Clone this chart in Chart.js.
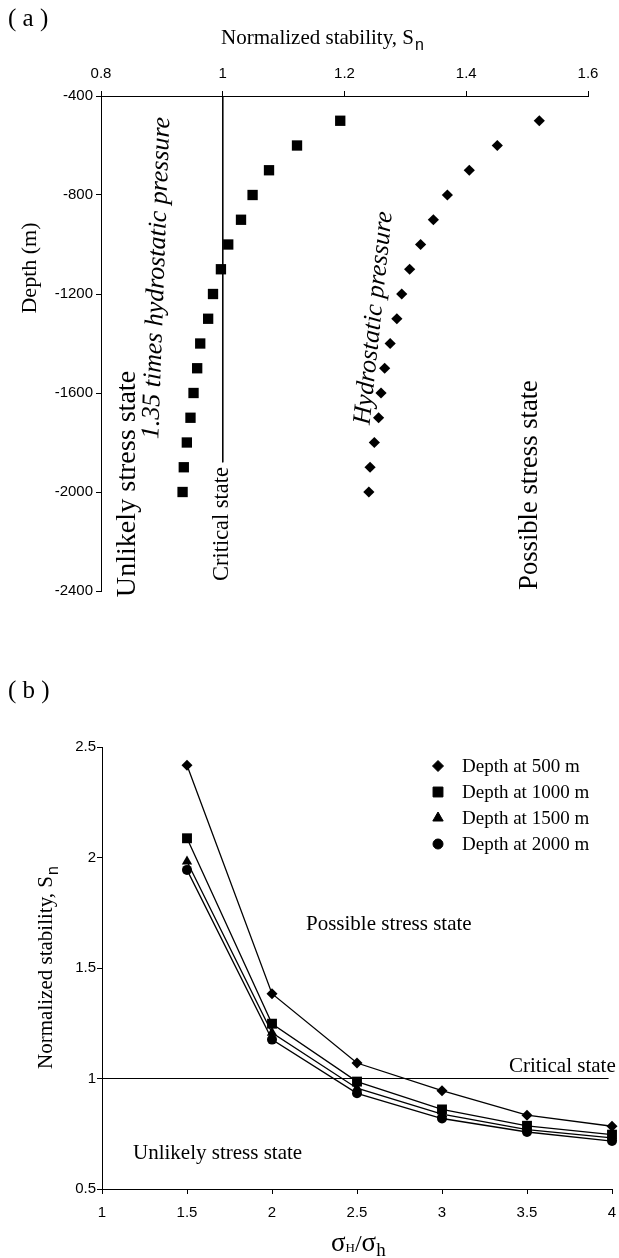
<!DOCTYPE html>
<html>
<head>
<meta charset="utf-8">
<script src="https://cdn.jsdelivr.net/npm/chart.js@4.4.1/dist/chart.umd.min.js"></script>
<style>
  html, body { margin: 0; padding: 0; background: #fff; }
  #panelA { position: absolute; left: 0; top: 0; }
  #panelB { position: absolute; left: 0; top: 650px; }
</style>
</head>
<body>
<canvas id="panelA" width="619" height="650"></canvas>
<canvas id="panelB" width="619" height="608"></canvas>
<script>
// panel (a): normalized stability against depth
const depthsA = [-500, -600, -700, -800, -900, -1000, -1100, -1200, -1300, -1400, -1500, -1600, -1700, -1800, -1900, -2000];
const snTimes135 = [1.193, 1.122, 1.076, 1.049, 1.030, 1.009, 0.997, 0.984, 0.976, 0.963, 0.958, 0.952, 0.947, 0.941, 0.936, 0.934];
const snHydrostatic = [1.520, 1.451, 1.405, 1.369, 1.346, 1.325, 1.307, 1.294, 1.286, 1.275, 1.266, 1.260, 1.256, 1.249, 1.242, 1.240];
const criticalSnA = 1;
const criticalDepthsA = [-400, -1880];
const xTicksA = [0.8, 1, 1.2, 1.4, 1.6];
const yTicksA = [-400, -800, -1200, -1600, -2000, -2400];

// panel (b): normalized stability against stress ratio
const stressRatios = [1.5, 2, 2.5, 3, 3.5, 4];
const sn500 = [2.417, 1.384, 1.070, 0.945, 0.834, 0.784];
const sn1000 = [2.087, 1.248, 0.986, 0.860, 0.786, 0.746];
const sn1500 = [1.982, 1.207, 0.956, 0.839, 0.769, 0.731];
const sn2000 = [1.944, 1.176, 0.933, 0.819, 0.758, 0.717];
const seriesLabels = ['Depth at 500 m', 'Depth at 1000 m', 'Depth at 1500 m', 'Depth at 2000 m'];
const seriesStyles = ['rectRot', 'rect', 'triangle', 'circle'];
const seriesRadius = [5.5, 7, 6, 5];
const criticalRatiosB = [1, 3.98];
const criticalSnB = 1;
const xTicksB = [1, 1.5, 2, 2.5, 3, 3.5, 4];
const yTicksB = [0.5, 1, 1.5, 2, 2.5];

const SERIF = '"Liberation Serif", "DejaVu Serif", serif';
const SANS = '"Liberation Sans", Arial, sans-serif';
const fmt = (v) => String(Math.round(v * 10) / 10);

const text = (ctx, str, x, y, font, opts = {}) => {
  ctx.save();
  ctx.translate(x, y);
  if (opts.angle) ctx.rotate(opts.angle * Math.PI / 180);
  ctx.font = font;
  ctx.fillStyle = '#000';
  ctx.textAlign = opts.align || 'left';
  ctx.textBaseline = opts.baseline || 'middle';
  ctx.fillText(str, 0, 0);
  ctx.restore();
};

// font size that makes str about `len` pixels long
const fitFont = (ctx, str, style, len) => {
  ctx.font = style + ' 100px ' + SERIF;
  const size = 100 * len / ctx.measureText(str).width;
  return style + ' ' + size.toFixed(1) + 'px ' + SERIF;
};

// "Normalized stability, Sn" centred on (0,0) of the current transform
const drawSnTitle = (ctx, size) => {
  const main = 'Normalized stability, S';
  ctx.font = size + 'px ' + SERIF;
  const w1 = ctx.measureText(main).width;
  ctx.font = Math.round(size * 0.75) + 'px ' + SANS;
  const w2 = ctx.measureText('n').width;
  const x0 = -(w1 + w2) / 2;
  ctx.fillStyle = '#000';
  ctx.textBaseline = 'alphabetic';
  ctx.textAlign = 'left';
  ctx.font = size + 'px ' + SERIF;
  ctx.fillText(main, x0, 7);
  ctx.font = Math.round(size * 0.75) + 'px ' + SANS;
  ctx.fillText('n', x0 + w1 + 1, 13);
};

const axisCommon = (ticks) => ({
  type: 'linear',
  min: ticks[0],
  max: ticks[ticks.length - 1],
  afterBuildTicks: (scale) => { scale.ticks = ticks.map((v) => ({ value: v })); },
  ticks: { color: '#000', font: { family: SANS, size: 15 }, callback: (v) => fmt(v) },
  grid: { drawOnChartArea: false, drawTicks: true, tickLength: 5, color: '#000', lineWidth: 1 },
  border: { display: true, color: '#000', width: 1 }
});

const textsA = {
  id: 'textsA',
  afterDraw(chart) {
    const ctx = chart.ctx;
    text(ctx, '( a )', 8, 19, '25px ' + SERIF);
    ctx.save();
    ctx.translate(322, 37);
    drawSnTitle(ctx, 21);
    ctx.restore();
    text(ctx, 'Depth (m)', 30, 268, '22px ' + SERIF, { angle: -90, align: 'center' });
    const notes = [
      ['Unlikely stress state', 128, 484, '', 226, -90],
      ['1.35 times hydrostatic pressure', 157, 278, 'italic', 322, -88],
      ['Critical state', 222, 524, '', 114, -90],
      ['Hydrostatic pressure', 374, 318, 'italic', 214, -84],
      ['Possible stress state', 530, 485, '', 210, -90]
    ];
    notes.forEach(([str, x, y, style, len, angle]) => {
      text(ctx, str, x, y, fitFont(ctx, str, style, len), { angle, align: 'center' });
    });
  }
};

const textsB = {
  id: 'textsB',
  afterDraw(chart) {
    const ctx = chart.ctx;
    text(ctx, '( b )', 8, 41, '25px ' + SERIF);
    // legend
    const rows = [116, 142, 168, 194];
    chart.data.datasets.slice(0, 4).forEach((ds, i) => {
      ctx.save();
      ctx.fillStyle = '#000';
      ctx.strokeStyle = '#000';
      Chart.helpers.drawPoint(ctx, { pointStyle: ds.pointStyle, radius: ds.pointRadius, rotation: 0, borderWidth: 1 }, 438, rows[i]);
      ctx.restore();
      text(ctx, seriesLabels[i], 462, rows[i] + 1, '19px ' + SERIF);
    });
    text(ctx, 'Possible stress state', 306, 274, '21px ' + SERIF);
    text(ctx, 'Unlikely stress state', 133, 503, '21px ' + SERIF);
    text(ctx, 'Critical state', 509, 416, '21px ' + SERIF);
    ctx.save();
    ctx.translate(45, 318);
    ctx.rotate(-Math.PI / 2);
    drawSnTitle(ctx, 21);
    ctx.restore();
    // sigma_H / sigma_h
    ctx.save();
    ctx.fillStyle = '#000';
    ctx.textBaseline = 'alphabetic';
    let x = 331;
    const y = 601;
    const put = (s, font, dy) => {
      ctx.font = font;
      ctx.fillText(s, x, y + dy);
      x += ctx.measureText(s).width;
    };
    put('σ', '27px ' + SERIF, 0);
    put('H', '13px ' + SERIF, 1);
    put('/', '24px ' + SERIF, 0);
    put('σ', '27px ' + SERIF, 0);
    put('h', '19px ' + SERIF, 5);
    ctx.restore();
  }
};

const xA = axisCommon(xTicksA);
xA.position = 'top';
xA.afterFit = (s) => { s.height = 30; s.paddingLeft = 0; s.paddingRight = 0; };
xA.ticks.padding = 8;
const yA = axisCommon(yTicksA);
yA.afterFit = (s) => { s.width = 60; s.paddingTop = 0; s.paddingBottom = 0; };
yA.ticks.padding = 3;

new Chart(document.getElementById('panelA'), {
  type: 'scatter',
  data: {
    datasets: [
      {
        data: depthsA.map((d, i) => ({ x: snTimes135[i], y: d })),
        pointStyle: 'rect', pointRadius: 7.3, backgroundColor: '#000', borderColor: '#000', borderWidth: 0
      },
      {
        data: depthsA.map((d, i) => ({ x: snHydrostatic[i], y: d })),
        pointStyle: 'rectRot', pointRadius: 5.6, backgroundColor: '#000', borderColor: '#000', borderWidth: 0
      },
      {
        data: criticalDepthsA.map((d) => ({ x: criticalSnA, y: d })),
        showLine: true, pointRadius: 0, borderColor: '#000', borderWidth: 1
      }
    ]
  },
  options: {
    responsive: false,
    animation: false,
    devicePixelRatio: 1,
    layout: { padding: { left: 41, top: 66, right: 31, bottom: 59 } },
    plugins: { legend: { display: false }, tooltip: { enabled: false } },
    scales: { x: xA, y: yA }
  },
  plugins: [textsA]
});

const xB = axisCommon(xTicksB);
xB.afterFit = (s) => { s.height = 30; s.paddingLeft = 0; s.paddingRight = 0; };
xB.ticks.padding = 10;
const yB = axisCommon(yTicksB);
yB.afterFit = (s) => { s.width = 40; s.paddingTop = 0; s.paddingBottom = 0; };
yB.ticks.padding = 1;

const seriesB = [sn500, sn1000, sn1500, sn2000];

new Chart(document.getElementById('panelB'), {
  type: 'line',
  data: {
    datasets: seriesB.map((vals, i) => ({
      data: stressRatios.map((r, j) => ({ x: r, y: vals[j] })),
      pointStyle: seriesStyles[i],
      pointRadius: seriesRadius[i],
      backgroundColor: '#000',
      borderColor: '#000',
      borderWidth: 1.3,
      pointBorderWidth: 0,
      tension: 0
    })).concat([{
      data: criticalRatiosB.map((r) => ({ x: r, y: criticalSnB })),
      pointRadius: 0, borderColor: '#000', borderWidth: 1
    }])
  },
  options: {
    responsive: false,
    animation: false,
    devicePixelRatio: 1,
    clip: false,
    layout: { padding: { left: 62, top: 97, right: 5, bottom: 39 } },
    plugins: { legend: { display: false }, tooltip: { enabled: false } },
    scales: { x: xB, y: yB }
  },
  plugins: [textsB]
});
</script>
</body>
</html>
